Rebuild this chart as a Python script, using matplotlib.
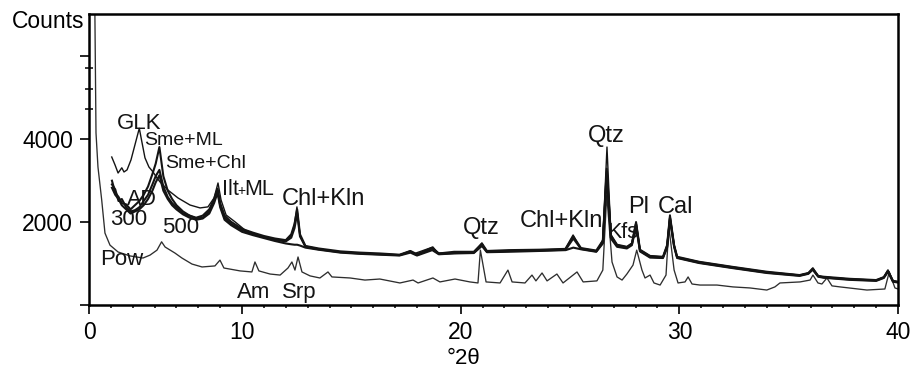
import matplotlib
matplotlib.use("Agg")
import matplotlib.pyplot as plt
from matplotlib.ticker import FixedLocator, NullFormatter

plt.rcParams['font.family'] = ['Liberation Sans', 'DejaVu Sans']

# ---- powder (random) pattern ----
twotheta_pow = [3.20, 3.27, 3.32, 3.41, 3.58, 3.73, 3.96, 4.33, 4.88, 5.47, 5.79, 6.11, 6.32,
                6.48, 6.93, 7.25, 7.71, 8.17, 8.76, 8.99, 9.17, 9.91, 10.45, 10.59, 10.77,
                11.28, 11.74, 12.10, 12.28, 12.42, 12.56, 12.74, 13.11, 13.56, 13.93, 14.11,
                14.94, 15.62, 16.30, 17.22, 17.82, 18.05, 18.73, 19.05, 19.74, 20.42, 20.79,
                20.90, 21.16, 21.80, 22.16, 22.35, 22.94, 23.26, 23.44, 23.72, 23.95, 24.40,
                24.68, 25.32, 25.60, 26.23, 26.50, 26.68, 26.92, 27.15, 27.38, 27.60, 27.88,
                28.05, 28.29, 28.43, 28.66, 28.84, 29.12, 29.39, 29.52, 29.76, 29.94, 30.26,
                30.40, 30.58, 30.94, 31.72, 32.45, 33.23, 34.00, 34.37, 34.60, 35.52, 35.98,
                36.11, 36.34, 36.52, 36.75, 36.98, 37.35, 38.58, 39.40, 39.60, 39.86, 40.00]
counts_pow = [8000, 6970, 4140, 3320, 2530, 1730, 1440, 1275, 1180, 1130, 1200, 1320, 1520,
              1395, 1250, 1130, 985, 915, 940, 1080, 890, 820, 795, 1035, 820,
              745, 720, 890, 1035, 840, 1155, 795, 700, 650, 795, 675,
              650, 600, 625, 530, 600, 530, 650, 555, 625, 555, 530,
              1320, 555, 530, 840, 555, 530, 720, 580, 770, 580, 745,
              530, 795, 555, 580, 840, 2640, 1035, 675, 600, 745, 960,
              1320, 840, 650, 720, 530, 480, 720, 1875, 840, 530, 555,
              675, 505, 480, 480, 435, 410, 360, 435, 530, 555, 600,
              720, 530, 505, 650, 460, 435, 360, 385, 795, 410, 385]

# ---- glycolated (GLK) pattern ----
twotheta_glk = [4.04, 4.19, 4.33, 4.50, 4.60, 4.74, 4.92, 5.10, 5.30, 5.42, 5.56, 5.74, 5.93,
                6.11, 6.25, 6.61, 7.07, 7.62, 8.08, 8.44, 8.72, 8.90, 9.04, 9.27, 9.68,
                10.13, 10.82, 11.51, 11.96, 12.24, 12.38, 12.51, 12.65, 12.88, 13.56, 14.48,
                15.39, 16.31, 17.22, 17.68, 17.90, 18.73, 18.95, 19.74, 20.65, 20.97, 21.16,
                22.25, 23.63, 24.77, 25.14, 25.46, 26.23, 26.50, 26.69, 26.87, 27.15, 27.61,
                27.83, 28.02, 28.20, 28.66, 29.25, 29.44, 29.57, 29.76, 29.89, 30.94, 32.45,
                34.00, 35.52, 35.93, 36.11, 36.34, 36.57, 37.80, 39.04, 39.36, 39.54, 39.77,
                40.00]
counts_glk = [3560, 3370, 3175, 3300, 3200, 3250, 3490, 3850, 4250, 3920, 3540, 3320, 3200,
              3055, 2960, 2765, 2575, 2405, 2335, 2360, 2575, 2935, 2525, 2165, 2000,
              1805, 1660, 1565, 1540, 1660, 1900, 2360, 1660, 1420, 1345, 1275,
              1250, 1225, 1205, 1300, 1240, 1395, 1250, 1250, 1275, 1490, 1300,
              1300, 1325, 1345, 1685, 1370, 1300, 1565, 3800, 1685, 1445, 1395,
              1490, 2000, 1325, 1180, 1155, 1445, 2165, 1445, 1155, 1035, 915,
              795, 720, 770, 890, 700, 675, 625, 600, 675, 840, 580,
              555]

# ---- air-dried and heated patterns (shared 2θ grid) ----
twotheta_clay = [4.05, 4.20, 4.35, 4.50, 4.70, 4.90, 5.10, 5.30, 5.50, 5.70, 5.90, 6.05, 6.22,
                 6.40, 6.60, 6.80, 7.00, 7.30, 7.60, 7.90, 8.20, 8.50, 8.72, 8.88, 9.00,
                 9.20, 9.50, 10.00, 10.50, 11.00, 11.50, 12.00, 12.25, 12.40, 12.52, 12.65,
                 12.90, 13.50, 14.50, 15.40, 16.30, 17.20, 17.70, 18.00, 18.70, 19.00, 19.70,
                 20.60, 20.97, 21.20, 22.20, 23.60, 24.80, 25.15, 25.50, 26.20, 26.50, 26.68,
                 26.87, 27.15, 27.60, 27.83, 28.02, 28.20, 28.66, 29.25, 29.44, 29.57, 29.76,
                 29.90, 30.90, 32.40, 34.00, 35.50, 35.90, 36.10, 36.35, 36.60, 37.80, 39.00,
                 39.35, 39.54, 39.77, 40.00]
counts_ad = [2990, 2700, 2600, 2450, 2420, 2300, 2400, 2500, 2650, 2850, 3150, 3400, 3800,
             3100, 2750, 2550, 2400, 2250, 2150, 2100, 2150, 2300, 2550, 2800, 2450,
             2150, 2000, 1830, 1740, 1660, 1600, 1560, 1700, 1950, 2300, 1700,
             1420, 1360, 1290, 1260, 1240, 1210, 1300, 1220, 1380, 1240, 1280,
             1280, 1480, 1300, 1320, 1330, 1350, 1650, 1370, 1310, 1550, 3280,
             1680, 1450, 1400, 1480, 1990, 1330, 1180, 1160, 1440, 2150, 1440,
             1160, 1040, 920, 800, 720, 770, 880, 700, 680, 630, 600,
             670, 830, 580, 560]
counts_300 = [2900, 2780, 2500, 2550, 2350, 2250, 2280, 2350, 2500, 2650, 2900, 3100, 3250,
              2850, 2600, 2450, 2350, 2200, 2150, 2080, 2100, 2250, 2500, 2750, 2400,
              2100, 1950, 1800, 1700, 1640, 1570, 1530, 1620, 1850, 2200, 1650,
              1400, 1340, 1270, 1240, 1220, 1200, 1280, 1200, 1360, 1230, 1250,
              1260, 1450, 1280, 1300, 1310, 1330, 1600, 1350, 1290, 1500, 3200,
              1650, 1420, 1380, 1460, 1950, 1300, 1160, 1140, 1400, 2100, 1420,
              1140, 1020, 900, 780, 710, 760, 860, 690, 665, 615, 590,
              660, 810, 570, 550]
counts_500 = [2820, 2650, 2550, 2400, 2300, 2200, 2250, 2300, 2400, 2550, 2750, 2950, 3120,
              2750, 2550, 2400, 2300, 2180, 2100, 2050, 2080, 2200, 2450, 2700, 2350,
              2050, 1920, 1760, 1680, 1610, 1540, 1480, 1460, 1450, 1450, 1430,
              1380, 1330, 1260, 1230, 1210, 1190, 1260, 1190, 1320, 1220, 1240,
              1250, 1420, 1270, 1280, 1300, 1320, 1380, 1340, 1280, 1480, 3100,
              1600, 1400, 1360, 1440, 1900, 1290, 1140, 1130, 1380, 2050, 1400,
              1130, 1010, 890, 770, 700, 750, 850, 680, 655, 605, 580,
              650, 800, 560, 540]

# ---- axis ticks ----
xtick_pos = [3, 10, 20, 30, 40]
xtick_labels = ['0', '10', '20', '30', '40']
ytick_pos = [0, 2000, 4000, 6000]
ytick_labels = ['', '2000', '4000', '']

# ---- peak annotations: (text, 2θ, counts, size, alignment) ----
peak_labels = [
    ('GLK', 5.29, 4234, 16, 'center'),
    ('Sme+ML', 5.52, 3849, 14, 'left'),
    ('Sme+Chl', 6.48, 3296, 14, 'left'),
    ('AD', 5.42, 2406, 15.5, 'center'),
    ('300', 4.83, 1924, 16, 'center'),
    ('500', 7.21, 1732, 16, 'center'),
    ('Chl+Kln', 11.83, 2406, 17, 'left'),
    ('Pow', 3.50, 962, 16, 'left'),
    ('Am', 9.77, 168, 16, 'left'),
    ('Srp', 11.83, 168, 16, 'left'),
    ('Qtz', 20.10, 1708, 17, 'left'),
    ('Chl+Kln', 22.71, 1876, 17, 'left'),
    ('Qtz', 25.82, 3921, 17, 'left'),
    ('Kfs', 26.69, 1612, 15.5, 'left'),
    ('Pl', 27.65, 2213, 17, 'left'),
    ('Cal', 29.02, 2213, 17, 'left'),
]

fig = plt.figure(figsize=(9.15, 3.67), dpi=100)
ax = fig.add_axes([89 / 915, 1 - 305 / 367, 809 / 915, 291 / 367])

ink = '#141414'
ax.plot(twotheta_pow, counts_pow, color='#2e2e2e', lw=0.95)
ax.plot(twotheta_clay, counts_500, color=ink, lw=1.5)
ax.plot(twotheta_clay, counts_300, color=ink, lw=1.5)
ax.plot(twotheta_clay, counts_ad, color=ink, lw=1.5)
ax.plot(twotheta_glk, counts_glk, color=ink, lw=1.0)

ax.set_xlim(3, 40)
ax.set_ylim(0, 7000)

ax.set_xticks(xtick_pos)
ax.set_xticklabels(xtick_labels, fontsize=16.5)
ax.xaxis.set_minor_locator(FixedLocator([v for v in range(4, 40) if v not in xtick_pos]))
ax.set_yticks(ytick_pos)
ax.set_yticklabels(ytick_labels, fontsize=16.5)
ax.yaxis.set_minor_locator(FixedLocator([4720, 5200, 5700]))
ax.yaxis.set_minor_formatter(NullFormatter())

ax.tick_params(axis='both', which='major', direction='out', length=6.5, width=1.2,
               pad=5, colors='black')
ax.tick_params(axis='x', which='minor', direction='out', length=2.5, width=1.1)
ax.tick_params(axis='y', which='minor', direction='inout', length=6, width=1.1)

for side in ('left', 'right', 'top', 'bottom'):
    ax.spines[side].set_linewidth(1.8)
    ax.spines[side].set_color('black')

for txt, x, y, size, ha in peak_labels:
    ax.text(x, y, txt, fontsize=size, ha=ha, va='baseline', color=ink)

# illite label with a small plus sign
ax.text(9.08, 2646, 'Ilt', fontsize=15.5, ha='left', va='baseline', color=ink)
ax.text(9.78, 2646, '+', fontsize=10, ha='left', va='baseline', color=ink)
ax.text(10.10, 2646, 'ML', fontsize=15.5, ha='left', va='baseline', color=ink)

fig.text(84 / 915, 1 - 22 / 367, 'Counts', fontsize=16.5, ha='right', va='center')
fig.text(464 / 915, 1 - 358 / 367, '°2θ', fontsize=16, ha='center', va='center')

fig.savefig('out.png', dpi=100)
